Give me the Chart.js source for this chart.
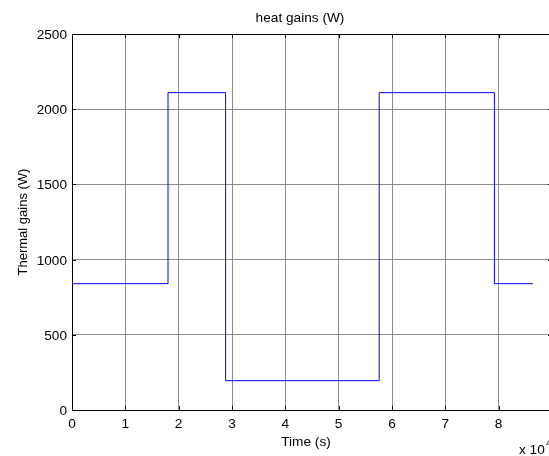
<!DOCTYPE html>
<html lang="en">
<head>
    <meta charset="UTF-8">
    <title>heat gains (W)</title>
    <script src="https://cdn.jsdelivr.net/npm/chart.js"></script>
    <style>
        html, body { margin: 0; padding: 0; background: #fff; overflow: hidden; }
        #wrap { width: 560px; height: 456px; }
    </style>
</head>
<body>
    <div id="wrap"><canvas id="heatChart" width="560" height="456"></canvas></div>

    <script>
        // time in units of 1e4 s, gains in W (step changes)
        const timeValues = [0, 1.8, 2.88, 5.76, 7.92, 8.64];
        const gainValues = [840, 2110, 195, 2110, 840, 840];
        const xTicks = [0, 1, 2, 3, 4, 5, 6, 7, 8, 9];
        const yTicks = [0, 500, 1000, 1500, 2000, 2500];

        const titleText = 'heat gains (W)';
        const xLabel = 'Time (s)';
        const yLabel = 'Thermal gains (W)';
        const fontFamily = '"Liberation Sans", Arial, sans-serif';
        const stretch = 1.05;

        function wideText(ctx, text, x, y, align) {
            ctx.save();
            ctx.translate(x, y);
            ctx.scale(stretch, 1);
            ctx.textAlign = align;
            ctx.fillText(text, 0, 0);
            ctx.restore();
        }

        // frame, tick labels and titles, drawn the matlab way
        const matlabFrame = {
            id: 'matlabFrame',
            afterDraw(chart) {
                const ctx = chart.ctx;
                const a = chart.chartArea;
                const xs = chart.scales.x;
                const ys = chart.scales.y;
                ctx.save();
                ctx.strokeStyle = '#000';
                ctx.lineWidth = 1;
                ctx.strokeRect(Math.round(a.left) + 0.5, Math.round(a.top) + 0.5,
                    Math.round(a.right - a.left), Math.round(a.bottom - a.top));

                // small inward tick marks
                ctx.beginPath();
                xTicks.forEach(v => {
                    const px = Math.round(xs.getPixelForValue(v)) + 0.5;
                    ctx.moveTo(px, a.bottom); ctx.lineTo(px, a.bottom - 4);
                    ctx.moveTo(px, a.top); ctx.lineTo(px, a.top + 4);
                });
                yTicks.forEach(v => {
                    const py = Math.round(ys.getPixelForValue(v)) + 0.5;
                    ctx.moveTo(a.left, py); ctx.lineTo(a.left + 4, py);
                    ctx.moveTo(a.right, py); ctx.lineTo(a.right - 4, py);
                });
                ctx.stroke();

                ctx.fillStyle = '#000';
                ctx.font = '13px ' + fontFamily;
                ctx.textBaseline = 'alphabetic';
                xTicks.slice(0, -1).forEach(v => {
                    wideText(ctx, String(v), xs.getPixelForValue(v), a.bottom + 18, 'center');
                });
                yTicks.forEach(v => {
                    wideText(ctx, String(v), a.left - 5, ys.getPixelForValue(v) + 5, 'right');
                });

                wideText(ctx, titleText, 300, 22, 'center');
                wideText(ctx, xLabel, 306, 446, 'center');
                wideText(ctx, 'x 10', 519, 454, 'left');
                ctx.font = '9px ' + fontFamily;
                wideText(ctx, '4', 546, 446, 'left');

                ctx.font = '13px ' + fontFamily;
                ctx.translate(27, (a.top + a.bottom) / 2);
                ctx.rotate(-Math.PI / 2);
                ctx.scale(1, stretch);
                ctx.textAlign = 'center';
                ctx.fillText(yLabel, 0, 0);
                ctx.restore();
            }
        };

        const points = timeValues.map((t, i) => ({ x: t, y: gainValues[i] }));

        new Chart(document.getElementById('heatChart'), {
            type: 'line',
            data: {
                datasets: [{
                    data: points,
                    borderColor: '#0000ff',
                    borderWidth: 1,
                    pointRadius: 0,
                    stepped: true,
                    fill: false
                }]
            },
            options: {
                responsive: false,
                animation: false,
                events: [],
                layout: { padding: { left: 0, right: 8, top: 34, bottom: 0 } },
                plugins: {
                    legend: { display: false },
                    title: { display: false },
                    tooltip: { enabled: false }
                },
                scales: {
                    x: {
                        type: 'linear',
                        min: xTicks[0],
                        max: xTicks[xTicks.length - 1],
                        afterFit: s => { s.height = 46; },
                        afterBuildTicks: s => { s.ticks = xTicks.map(v => ({ value: v })); },
                        ticks: { display: false },
                        grid: { color: '#8c8c8c', borderDash: [1, 2], drawTicks: false },
                        border: { display: false }
                    },
                    y: {
                        min: yTicks[0],
                        max: yTicks[yTicks.length - 1],
                        afterFit: s => { s.width = 72; },
                        afterBuildTicks: s => { s.ticks = yTicks.map(v => ({ value: v })); },
                        ticks: { display: false },
                        grid: { color: '#8c8c8c', borderDash: [1, 2], drawTicks: false },
                        border: { display: false }
                    }
                }
            },
            plugins: [matlabFrame]
        });
    </script>
</body>
</html>
